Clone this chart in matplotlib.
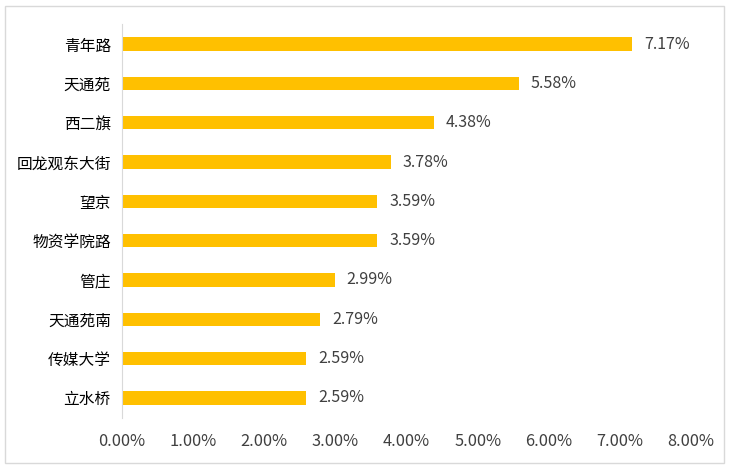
import matplotlib
matplotlib.use("Agg")
import matplotlib.pyplot as plt
from matplotlib.patches import Rectangle
from matplotlib.ticker import FuncFormatter

plt.rcParams['font.family'] = ['Noto Sans CJK SC', 'DejaVu Sans']

categories = ["青年路", "天通苑", "西二旗", "回龙观东大街", "望京", "物资学院路", "管庄", "天通苑南", "传媒大学", "立水桥"]
values = [7.17, 5.58, 4.38, 3.78, 3.59, 3.59, 2.99, 2.79, 2.59, 2.59]
xticks = [0, 1, 2, 3, 4, 5, 6, 7, 8]

W, H = 729, 469
fig = plt.figure(figsize=(W/100, H/100), dpi=100)
fig.patches.append(Rectangle((5/W, 6/H), 719/W, 457/H, transform=fig.transFigure,
                             fill=False, edgecolor='#D9D9D9', linewidth=1))
ax = fig.add_axes([122/W, 1-417.5/H, (691-122)/W, (417.5-24.5)/H])

y = list(range(len(categories)))
ax.barh(y, values, height=0.34, color='#FFC000')
ax.set_ylim(len(categories)-0.5, -0.5)
ax.set_xlim(0, 8)
ax.set_yticks(y)
ax.set_yticklabels(categories, fontsize=11.3, color='#000000')
ax.set_xticks(xticks)
ax.xaxis.set_major_formatter(FuncFormatter(lambda v, p: f"{v:.2f}%"))
for lbl in ax.get_xticklabels():
    lbl.set_fontsize(11.8)
    lbl.set_color('#404040')
ax.tick_params(axis='both', length=0)
ax.tick_params(axis='x', pad=11)
ax.tick_params(axis='y', pad=8)
for s in ['top', 'right', 'bottom']:
    ax.spines[s].set_visible(False)
ax.spines['left'].set_color('#D9D9D9')

for yi, v in zip(y, values):
    ax.text(v + 0.17, yi, f"{v:.2f}%", va='center', ha='left', fontsize=11.5, color='#404040')

fig.savefig("out.png", dpi=100)
